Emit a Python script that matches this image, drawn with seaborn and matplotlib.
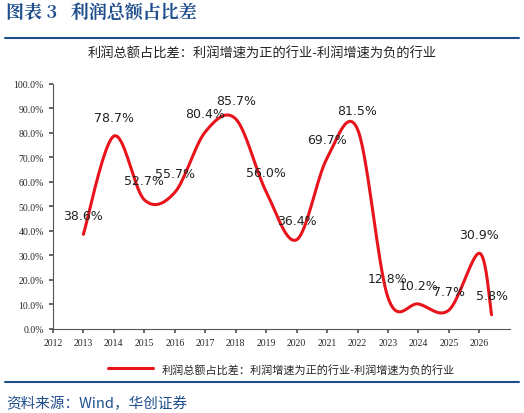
import numpy as np
import pandas as pd
import matplotlib
matplotlib.use("Agg")
import matplotlib.pyplot as plt
import seaborn as sns
from matplotlib.ticker import FuncFormatter

sns.set_theme(style="white")
plt.rcParams['font.family'] = ['Noto Sans CJK SC', 'DejaVu Sans']

x_pos = [2013.0, 2014.0, 2015.0, 2016.0, 2017.0, 2018.0, 2019.0, 2020.0, 2021.0, 2022.0, 2023.0, 2024.0, 2025.0, 2026.0, 2026.4]
values = [38.6, 78.7, 52.7, 55.7, 80.4, 85.7, 56.0, 36.4, 69.7, 81.5, 12.8, 10.2, 7.7, 30.9, 5.8]
labels = ["38.6%", "78.7%", "52.7%", "55.7%", "80.4%", "85.7%", "56.0%", "36.4%", "69.7%", "81.5%", "12.8%", "10.2%", "7.7%", "30.9%", "5.8%"]
series_name = "利润总额占比差：利润增速为正的行业-利润增速为负的行业"

def catmull(xs, ys, n=20):
    xs = np.array(xs); ys = np.array(ys)
    px = np.r_[xs[0], xs, xs[-1]]; py = np.r_[ys[0], ys, ys[-1]]
    ox, oy = [], []
    for i in range(1, len(px) - 2):
        t = np.linspace(0, 1, n, endpoint=False)
        for arr, out in ((px, ox), (py, oy)):
            p0, p1, p2, p3 = arr[i-1], arr[i], arr[i+1], arr[i+2]
            out.extend(0.5*((2*p1) + (-p0+p2)*t + (2*p0-5*p1+4*p2-p3)*t**2 + (-p0+3*p1-3*p2+p3)*t**3))
    ox.append(xs[-1]); oy.append(ys[-1])
    return np.array(ox), np.array(oy)

sx, sy = catmull(x_pos, values)
df = pd.DataFrame({"x": sx, "y": sy, "s": series_name})

fig = plt.figure(figsize=(5.24, 4.14), dpi=100)
ax = fig.add_axes([0.101, 0.203, 0.872, 0.592])
sns.lineplot(data=df, x="x", y="y", hue="s", palette=["#E8141C"], linewidth=2.2, sort=False, ax=ax, estimator=None)
for xv, yv, lb in zip(x_pos, values, labels):
    ax.text(xv, yv + 7.7, lb, ha="center", va="center", fontsize=9, color="#222222", family="DejaVu Sans")

ax.set_xlim(2012, 2027)
ax.set_ylim(0, 100)
ax.set_xticks(range(2012, 2027))
ax.set_yticks(range(0, 101, 10))
ax.yaxis.set_major_formatter(FuncFormatter(lambda v, p: f"{v:.1f}%"))
for lab in ax.get_xticklabels() + ax.get_yticklabels():
    lab.set_fontfamily(['Liberation Serif', 'DejaVu Serif'])
ax.tick_params(axis='both', labelsize=7, length=3, direction='out', color="#555555", bottom=True, left=True)
ax.set_xlabel(""); ax.set_ylabel("")
for sp in ["top", "right"]:
    ax.spines[sp].set_visible(False)
for sp in ["left", "bottom"]:
    ax.spines[sp].set_color("#555555"); ax.spines[sp].set_linewidth(0.8)

ax.legend(loc="upper center", bbox_to_anchor=(0.5, -0.1), frameon=False, fontsize=8, handlelength=4)

fig.text(0.012, 0.955, "图表 3   利润总额占比差", fontsize=13, fontweight="bold", color="#1F4E8C", family=['Noto Serif CJK SC', 'Noto Sans CJK SC'])
fig.add_artist(plt.Line2D([0.01, 0.99], [0.905, 0.905], color="#1F4E8C", linewidth=1.5))
fig.text(0.5, 0.86, series_name, ha="center", fontsize=9.5, color="#222222")
fig.add_artist(plt.Line2D([0.01, 0.99], [0.075, 0.075], color="#1F4E8C", linewidth=1.5))
fig.text(0.012, 0.015, "资料来源：Wind，华创证券", fontsize=10.5, color="#1F4E8C", style="italic")

fig.savefig("out.png", dpi=100)
